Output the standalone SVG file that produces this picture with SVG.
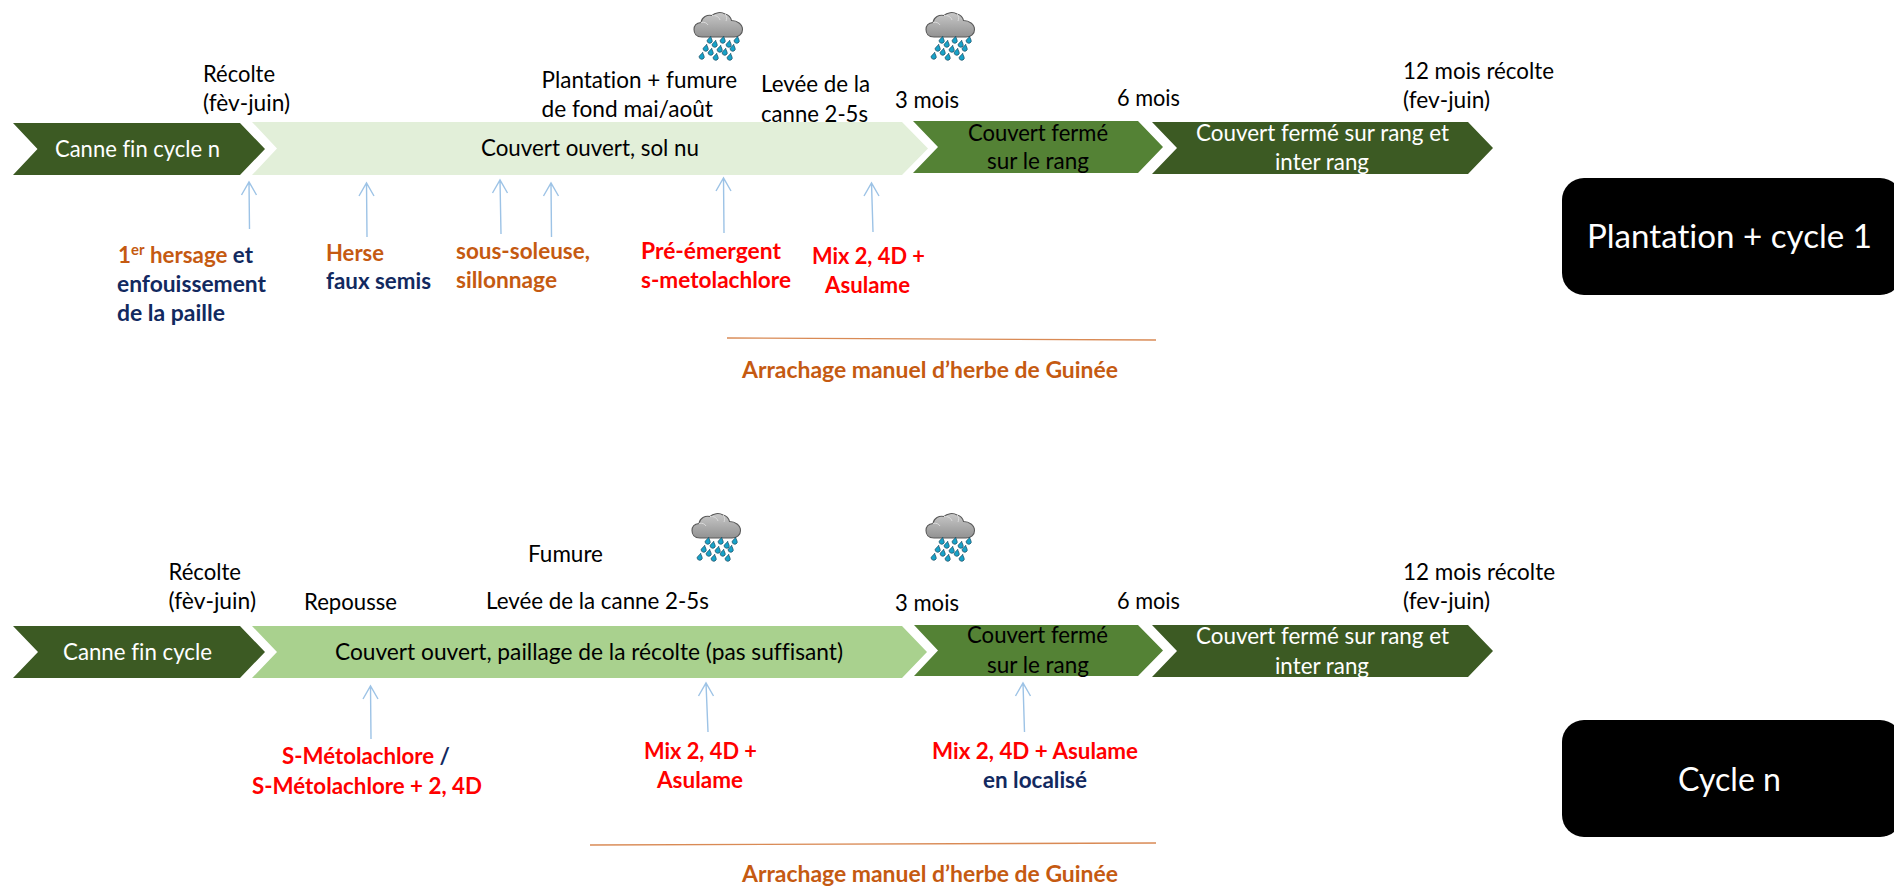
<svg xmlns="http://www.w3.org/2000/svg" width="1894" height="888" viewBox="0 0 1894 888">
<style>
text{font-family:Lato,"Liberation Sans",sans-serif;font-size:23px;fill:#000;white-space:pre;font-variant-ligatures:none}
.w{fill:#fff}
.b{font-weight:700;font-size:22.5px}
.o{fill:#C55A11}.n{fill:#12295F}.r{fill:#FF0000}
.dark{fill:#3C5A23}.mid{fill:#548235}.pale{fill:#E2EFD9}.soft{fill:#A9D18E}
.box{fill:#000}
.big{font-size:32px}
.arrow{fill:none;stroke:#9DC3E6;stroke-width:1.4}
.rule{fill:none;stroke:#D98A55;stroke-width:1.4}
.drop{fill:#17A2C8;stroke:#1E4F66;stroke-width:.7}
</style>
<defs>
<linearGradient id="cg" x1="0" y1="0" x2="0" y2="1"><stop offset="0" stop-color="#C8C8C8"/><stop offset="1" stop-color="#929292"/></linearGradient>
<path id="d" class="drop" d="M3 -4.300C2.600 -2.400 .2 -1.200 .2 .8A2.700 2.700 0 0 0 5.400 .8C5.400 -1.200 3.500 -2.400 3 -4.300Z" transform="rotate(10)"/>
<g id="rain">
<path d="M8 25C2 25 0 21 0 17.500C0 13.500 3 11 7 10.500C8 5 13 2.500 18 3.500C21 .5 27 -.5 31 2C35 3 37 6 37.500 8.500C43 8.500 48.500 12 48.500 17.500C48.500 22 45 25 40 25Z" fill="url(#cg)" stroke="#5A5A5A" stroke-width="1.100"/>
<path d="M7 10.500C10 9.500 13 11 14 13M18 3.500C22 3 25 5 26 8M31 2C33 4 33 7 32 9" fill="none" stroke="#DADADA" stroke-width="1"/>
<use href="#d" x="13" y="28"/><use href="#d" x="26" y="28"/><use href="#d" x="40" y="28"/>
<use href="#d" x="18" y="32"/><use href="#d" x="32" y="32"/>
<use href="#d" x="9" y="36"/><use href="#d" x="23" y="37"/><use href="#d" x="36" y="36"/>
<use href="#d" x="14" y="40"/><use href="#d" x="28" y="40"/>
<use href="#d" x="5" y="44"/><use href="#d" x="19" y="45"/><use href="#d" x="33" y="45"/>
</g>
</defs>
<rect width="1894" height="888" fill="#fff"/>

<g id="connectors">
<path class="arrow" d="M249.500 229L249 182M241.500 195L249 182L256.500 195"/>
<path class="arrow" d="M367 237L366.500 183M359 196L366.500 183L374 196"/>
<path class="arrow" d="M501 234L500 180M492.500 193L500 180L507.500 193"/>
<path class="arrow" d="M551.500 237L551 183M543.500 196L551 183L558.500 196"/>
<path class="arrow" d="M724 233L723.500 178M716 191L723.500 178L731 191"/>
<path class="arrow" d="M873 232L871.500 183M864 196L871.500 183L879 196"/>
<path class="rule" d="M727 338L1156 340"/>
<path class="arrow" d="M371 739L370.500 686M363 699L370.500 686L378 699"/>
<path class="arrow" d="M708 732L706 683M698.500 696L706 683L713.500 696"/>
<path class="arrow" d="M1024.500 732L1023 683M1015.500 696L1023 683L1030.500 696"/>
<path class="rule" d="M590 845L1156 843"/>
</g>

<g id="r1-canne"><path class="dark" d="M13 123H240L265 149L240 175H13L37.500 149Z"/><text class="w" x="55" y="157" textLength="165" lengthAdjust="spacingAndGlyphs">Canne fin cycle n</text></g>
<g id="r1-ouvert"><path class="pale" d="M252 122H902L928 148.500L902 175H252L277 148.500Z"/><text x="481" y="156" textLength="218" lengthAdjust="spacingAndGlyphs">Couvert ouvert, sol nu</text></g>
<g id="r1-ferme"><path class="mid" d="M913 121H1138L1163 147L1138 173H913L938 147Z"/><text x="968" y="141" textLength="140" lengthAdjust="spacingAndGlyphs">Couvert fermé</text><text x="987" y="169" textLength="102" lengthAdjust="spacingAndGlyphs">sur le rang</text></g>
<g id="r1-ferme2"><path class="dark" d="M1152 122H1468L1493 148L1468 174H1152L1177 148Z"/><text class="w" x="1196" y="141" textLength="253" lengthAdjust="spacingAndGlyphs">Couvert fermé sur rang et</text><text class="w" x="1275" y="170" textLength="94" lengthAdjust="spacingAndGlyphs">inter rang</text></g>

<g id="r1-recolte"><text x="203" y="82" textLength="72" lengthAdjust="spacingAndGlyphs">Récolte</text><text x="203" y="111" textLength="87" lengthAdjust="spacingAndGlyphs">(fèv-juin)</text></g>
<g id="r1-plantation"><text x="541.500" y="88" textLength="195.500" lengthAdjust="spacingAndGlyphs">Plantation + fumure</text><text x="541.500" y="117" textLength="171.500" lengthAdjust="spacingAndGlyphs">de fond mai/août</text></g>
<g id="r1-levee"><text x="761" y="92" textLength="109" lengthAdjust="spacingAndGlyphs">Levée de la</text><text x="761" y="122" textLength="107" lengthAdjust="spacingAndGlyphs">canne 2-5s</text></g>
<g id="r1-3mois"><text x="895" y="108" textLength="64" lengthAdjust="spacingAndGlyphs">3 mois</text></g>
<g id="r1-6mois"><text x="1117" y="106" textLength="63" lengthAdjust="spacingAndGlyphs">6 mois</text></g>
<g id="r1-12mois"><text x="1403" y="79" textLength="151" lengthAdjust="spacingAndGlyphs">12 mois récolte</text><text x="1403" y="108" textLength="87" lengthAdjust="spacingAndGlyphs">(fev-juin)</text></g>
<g id="r1-rain1"><use href="#rain" x="694" y="12"/></g>
<g id="r1-rain2"><use href="#rain" x="926" y="12"/></g>

<g id="r1-hersage"><text class="b" x="118" y="263" textLength="135" lengthAdjust="spacingAndGlyphs"><tspan class="o">1</tspan><tspan class="o" dy="-8" font-size="15">er</tspan><tspan class="o" dy="8"> hersage</tspan><tspan class="n"> et</tspan></text><text class="b n" x="117" y="292" textLength="149" lengthAdjust="spacingAndGlyphs">enfouissement</text><text class="b n" x="117" y="321" textLength="108" lengthAdjust="spacingAndGlyphs">de la paille</text></g>
<g id="r1-herse"><text class="b o" x="326" y="261" textLength="58" lengthAdjust="spacingAndGlyphs">Herse</text><text class="b n" x="326" y="289" textLength="105" lengthAdjust="spacingAndGlyphs">faux semis</text></g>
<g id="r1-sous"><text class="b o" x="456" y="259" textLength="134" lengthAdjust="spacingAndGlyphs">sous-soleuse,</text><text class="b o" x="456" y="288" textLength="101" lengthAdjust="spacingAndGlyphs">sillonnage</text></g>
<g id="r1-pre"><text class="b r" x="641" y="259" textLength="140" lengthAdjust="spacingAndGlyphs">Pré-émergent</text><text class="b r" x="641" y="288" textLength="150" lengthAdjust="spacingAndGlyphs">s-metolachlore</text></g>
<g id="r1-mix"><text class="b r" x="812" y="264" textLength="113" lengthAdjust="spacingAndGlyphs">Mix 2, 4D +</text><text class="b r" x="825" y="293" textLength="85" lengthAdjust="spacingAndGlyphs">Asulame</text></g>
<g id="r1-arrachage"><text class="b o" x="742" y="378" textLength="376" lengthAdjust="spacingAndGlyphs">Arrachage manuel d’herbe de Guinée</text></g>
<g id="plantation"><rect class="box" x="1562" y="178" width="340" height="117" rx="22"/><text class="w big" x="1587" y="248" textLength="285" lengthAdjust="spacingAndGlyphs">Plantation + cycle 1</text></g>

<g id="r2-canne"><path class="dark" d="M13 626H240L265 652L240 678H13L38 652Z"/><text class="w" x="63" y="660" textLength="149" lengthAdjust="spacingAndGlyphs">Canne fin cycle</text></g>
<g id="r2-ouvert"><path class="soft" d="M252 626H902L927 652L902 678H252L277 652Z"/><text x="335" y="660" textLength="508" lengthAdjust="spacingAndGlyphs">Couvert ouvert, paillage de la récolte (pas suffisant)</text></g>
<g id="r2-ferme"><path class="mid" d="M914 625H1138L1163 650.500L1138 676H914L938 650.500Z"/><text x="967" y="643" textLength="141" lengthAdjust="spacingAndGlyphs">Couvert fermé</text><text x="987" y="673" textLength="102" lengthAdjust="spacingAndGlyphs">sur le rang</text></g>
<g id="r2-ferme2"><path class="dark" d="M1152 625H1468L1493 651L1468 677H1152L1177 651Z"/><text class="w" x="1196" y="644" textLength="253" lengthAdjust="spacingAndGlyphs">Couvert fermé sur rang et</text><text class="w" x="1275" y="674" textLength="94" lengthAdjust="spacingAndGlyphs">inter rang</text></g>

<g id="r2-recolte"><text x="168.500" y="580" textLength="72.500" lengthAdjust="spacingAndGlyphs">Récolte</text><text x="168.500" y="609" textLength="87.500" lengthAdjust="spacingAndGlyphs">(fèv-juin)</text></g>
<g id="r2-repousse"><text x="304" y="610" textLength="93" lengthAdjust="spacingAndGlyphs">Repousse</text></g>
<g id="r2-fumure"><text x="528" y="562" textLength="75" lengthAdjust="spacingAndGlyphs">Fumure</text></g>
<g id="r2-levee"><text x="486" y="609" textLength="223" lengthAdjust="spacingAndGlyphs">Levée de la canne 2-5s</text></g>
<g id="r2-3mois"><text x="895" y="611" textLength="64" lengthAdjust="spacingAndGlyphs">3 mois</text></g>
<g id="r2-6mois"><text x="1117" y="609" textLength="63" lengthAdjust="spacingAndGlyphs">6 mois</text></g>
<g id="r2-12mois"><text x="1403" y="580" textLength="152" lengthAdjust="spacingAndGlyphs">12 mois récolte</text><text x="1403" y="609" textLength="87" lengthAdjust="spacingAndGlyphs">(fev-juin)</text></g>
<g id="r2-rain1"><use href="#rain" x="692" y="513"/></g>
<g id="r2-rain2"><use href="#rain" x="926" y="513"/></g>

<g id="r2-smeto"><text class="b" x="282" y="764" textLength="168" lengthAdjust="spacingAndGlyphs"><tspan class="r">S-Métolachlore </tspan><tspan class="n">/</tspan></text><text class="b r" x="252" y="794" textLength="230" lengthAdjust="spacingAndGlyphs">S-Métolachlore + 2, 4D</text></g>
<g id="r2-mix"><text class="b r" x="644" y="759" textLength="113" lengthAdjust="spacingAndGlyphs">Mix 2, 4D +</text><text class="b r" x="657" y="788" textLength="86" lengthAdjust="spacingAndGlyphs">Asulame</text></g>
<g id="r2-mixloc"><text class="b r" x="932" y="759" textLength="206" lengthAdjust="spacingAndGlyphs">Mix 2, 4D + Asulame</text><text class="b n" x="983" y="788" textLength="104" lengthAdjust="spacingAndGlyphs">en localisé</text></g>
<g id="r2-arrachage"><text class="b o" x="742" y="882" textLength="376" lengthAdjust="spacingAndGlyphs">Arrachage manuel d’herbe de Guinée</text></g>
<g id="cycle-n"><rect class="box" x="1562" y="720" width="340" height="117" rx="22"/><text class="w big" x="1678" y="791" textLength="103" lengthAdjust="spacingAndGlyphs">Cycle n</text></g>
</svg>
